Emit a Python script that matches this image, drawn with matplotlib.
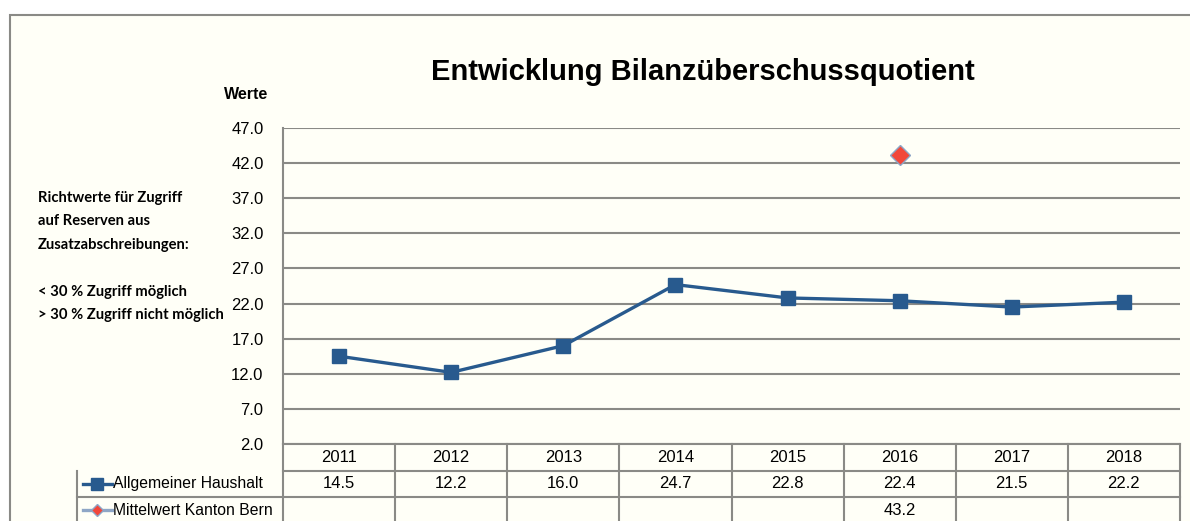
import matplotlib.pyplot as plt
import numpy as np
from matplotlib.patches import Rectangle
from matplotlib.transforms import blended_transform_factory

# chart data
years = ['2011', '2012', '2013', '2014', '2015', '2016', '2017', '2018']
haushalt = [14.5, 12.2, 16.0, 24.7, 22.8, 22.4, 21.5, 22.2]
kanton = [None, None, None, None, None, 43.2, None, None]
yticks = [2.0, 7.0, 12.0, 17.0, 22.0, 27.0, 32.0, 37.0, 42.0, 47.0]
series_names = ['Allgemeiner Haushalt', 'Mittelwert Kanton Bern']

note_lines = ['Richtwerte für Zugriff', 'auf Reserven aus',
              'Zusatzabschreibungen:', '', '< 30 % Zugriff möglich',
              '> 30 % Zugriff nicht möglich']

BLUE = '#285a8e'
LIGHT = '#8ea6c6'
RED = '#f2473a'
GRID = '#8a8a86'
BG = '#fffff7'
SANS = ['Liberation Sans', 'DejaVu Sans']

W, H = 1190, 521
fig = plt.figure(figsize=(W / 100, H / 100), dpi=100, facecolor='white')

# outer chart area border (runs off right/bottom of the picture)
fig.patches.append(Rectangle((10 / W, -0.05), 1.05, 1 - 15 / H + 0.05,
                             transform=fig.transFigure, facecolor=BG,
                             edgecolor=GRID, lw=1.5, zorder=-5))

ax = fig.add_axes([283 / W, 1 - 444 / H, (1180 - 283) / W, (444 - 128) / H])
ax.set_facecolor('none')
x = np.arange(len(years))

ax.plot(x, haushalt, color=BLUE, lw=2.4, marker='s', markersize=10,
        zorder=3, clip_on=False)
kx = [i for i, v in enumerate(kanton) if v is not None]
ky = [v for v in kanton if v is not None]
ax.plot(kx, ky, ls='none', marker='D', markersize=10.5, color=RED,
        markeredgecolor=LIGHT, markeredgewidth=1.0, zorder=3)

ax.set_xlim(-0.5, len(years) - 0.5)
ax.set_ylim(yticks[0], yticks[-1])
ax.set_yticks(yticks)
ax.set_yticklabels([f'{v:.1f}' for v in yticks], fontfamily=SANS,
                   fontsize=12)
ax.tick_params(axis='y', length=0, pad=14)
ax.set_xticks([])
ax.grid(axis='y', color=GRID, lw=1.5)
for s in ['top', 'right', 'bottom']:
    ax.spines[s].set_visible(False)
ax.spines['left'].set_color(GRID)
ax.spines['left'].set_linewidth(1.5)

ax.text(-0.017, 1.105, 'Werte', transform=ax.transAxes, ha='right',
        va='center', fontfamily=SANS, fontsize=11.5, fontweight='bold')

fig.text(0.591, 1 - 72 / H, 'Entwicklung Bilanzüberschussquotient',
         ha='center', va='center', fontfamily=SANS, fontsize=21,
         fontweight='bold')

for i, line in enumerate(note_lines):
    fig.text(38 / W, 1 - (198 + i * 23.5) / H, line, ha='left', va='center',
             fontfamily=['Lato', 'DejaVu Sans'], fontsize=10.6,
             fontweight='bold')

# data table under the plot
tr = blended_transform_factory(ax.transData, ax.transAxes)
rh = 26.5 / (444 - 128)
x_left = (77 - 283) / (1180 - 283) * len(years) - 0.5
lkw = dict(color=GRID, lw=1.5, transform=tr, clip_on=False)

for r in range(1, 4):
    ax.plot([x_left if r > 1 else -0.5, len(years) - 0.5],
            [-r * rh, -r * rh], **lkw)
ax.plot([-0.5, len(years) - 0.5], [0, 0], **lkw)
for b in range(len(years) + 1):
    ax.plot([b - 0.5, b - 0.5], [0, -3.5 * rh], **lkw)
ax.plot([x_left, x_left], [-rh, -3.5 * rh], **lkw)

for i, yr in enumerate(years):
    ax.text(i, -0.5 * rh, yr, transform=tr, ha='center', va='center',
            fontfamily=SANS, fontsize=12)
    ax.text(i, -1.5 * rh, f'{haushalt[i]:.1f}', transform=tr, ha='center',
            va='center', fontfamily=SANS, fontsize=12)
    if kanton[i] is not None:
        ax.text(i, -2.5 * rh, f'{kanton[i]:.1f}', transform=tr, ha='center',
                va='center', fontfamily=SANS, fontsize=12)

# legend keys inside the table
kx0 = x_left + 0.055
kx1 = x_left + 0.31
ax.plot([kx0, kx1], [-1.5 * rh] * 2, color=BLUE, lw=2.4, transform=tr,
        clip_on=False)
ax.plot([(kx0 + kx1) / 2], [-1.5 * rh], marker='s', markersize=8,
        color=BLUE, transform=tr, clip_on=False)
ax.plot([kx0, kx1], [-2.5 * rh] * 2, color=LIGHT, lw=2.4, transform=tr,
        clip_on=False)
ax.plot([(kx0 + kx1) / 2], [-2.5 * rh], marker='D', markersize=6,
        color=RED, markeredgecolor=LIGHT, transform=tr, clip_on=False)
for r, name in enumerate(series_names):
    ax.text(kx1 + 0.015, -(1.5 + r) * rh, name, transform=tr, ha='left',
            va='center', fontfamily=SANS, fontsize=11.3)

fig.savefig('out.png', dpi=100, facecolor=fig.get_facecolor())
